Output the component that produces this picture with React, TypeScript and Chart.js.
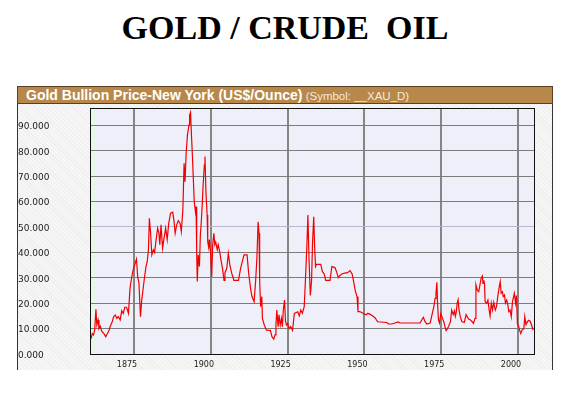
import { useEffect, useRef } from "react";
import { Chart, registerables } from "chart.js";

Chart.register(...registerables);

const titleText = "GOLD / CRUDE  OIL";
const headerMain = "Gold Bullion Price-New York (US$/Ounce)";
const headerSymbol = "(Symbol: __XAU_D)";

const xTicks = [1875, 1900, 1925, 1950, 1975, 2000];
const yTicks = [0, 10, 20, 30, 40, 50, 60, 70, 80, 90];

const years = [
  1861.0, 1861.4, 1861.8, 1862.2, 1862.6, 1862.9, 1863.3, 1863.6, 1864.0, 1864.5,
  1865.2, 1865.8, 1866.3, 1866.8, 1867.3, 1867.9, 1868.4, 1868.9, 1869.4, 1869.9,
  1870.5, 1871.0, 1871.5, 1872.0, 1872.6, 1873.2, 1873.7, 1874.2, 1874.7, 1875.2,
  1875.8, 1876.2, 1876.6, 1877.1, 1877.5, 1877.9, 1878.4, 1878.9, 1879.3, 1879.7,
  1880.0, 1880.4, 1880.8, 1881.3, 1881.7, 1882.2, 1882.7, 1883.1, 1883.4, 1883.8,
  1884.3, 1884.7, 1885.3, 1885.8, 1886.3, 1886.9, 1887.6, 1888.0, 1888.4, 1888.9,
  1889.4, 1890.0, 1890.4, 1890.9, 1891.3, 1891.6, 1892.0, 1892.4, 1892.9, 1893.1,
  1893.4, 1893.6, 1894.0, 1894.3, 1894.6, 1895.0, 1895.2, 1895.4, 1895.6, 1895.9,
  1896.3, 1896.6, 1896.9, 1897.2, 1897.5, 1897.9, 1898.1, 1898.4, 1898.8, 1899.0,
  1899.3, 1899.5, 1899.9, 1900.3, 1900.6, 1901.0, 1901.3, 1901.6, 1902.1, 1902.4,
  1902.9, 1903.3, 1903.8, 1904.3, 1904.6, 1905.2, 1905.7, 1906.2, 1906.8, 1907.5,
  1909.0, 1909.7, 1910.8, 1911.8, 1912.3, 1913.0, 1913.4, 1914.1, 1914.6, 1915.0,
  1915.4, 1915.7, 1915.9, 1916.2, 1916.6, 1916.8, 1917.4, 1918.1, 1919.4, 1919.9,
  1920.5, 1920.9, 1921.2, 1921.5, 1921.9, 1922.2, 1922.6, 1923.0, 1923.3, 1923.6,
  1924.0, 1924.3, 1924.6, 1925.0, 1925.5, 1926.0, 1926.6, 1927.2, 1928.3, 1928.8,
  1929.3, 1929.8, 1930.4, 1930.8, 1931.3, 1931.6, 1932.0, 1932.4, 1932.8, 1933.1,
  1933.5, 1933.8, 1934.1, 1934.4, 1935.8, 1936.3, 1936.9, 1937.4, 1938.8, 1939.4,
  1940.4, 1940.9, 1941.5, 1942.0, 1942.6, 1943.6, 1944.5, 1945.3, 1946.0, 1946.6,
  1947.1, 1947.6, 1947.9, 1948.5, 1949.5, 1950.6, 1951.1, 1952.2, 1953.5, 1954.3,
  1957.3, 1957.8, 1958.9, 1961.0, 1961.6, 1968.1, 1968.7, 1969.2, 1969.7, 1970.3,
  1971.4, 1972.1, 1972.6, 1973.0, 1973.3, 1973.6, 1973.8, 1974.1, 1974.4, 1974.9,
  1975.4, 1975.9, 1976.2, 1976.6, 1977.0, 1977.4, 1978.0, 1978.4, 1978.9, 1979.3,
  1979.6, 1979.9, 1980.2, 1980.5, 1980.8, 1981.2, 1981.7, 1982.5, 1983.1, 1983.9,
  1984.4, 1985.0, 1985.5, 1986.0, 1986.3, 1986.7, 1987.2, 1987.6, 1988.0, 1988.4,
  1988.6, 1988.9, 1989.1, 1989.3, 1989.8, 1990.2, 1990.6, 1990.9, 1991.3, 1991.7,
  1992.1, 1992.6, 1993.0, 1993.4, 1993.8, 1994.2, 1994.5, 1994.9, 1995.2, 1995.6,
  1995.9, 1996.3, 1996.6, 1997.0, 1997.4, 1997.8, 1998.2, 1998.8, 1999.2, 1999.5,
  1999.8, 2000.2, 2000.5, 2000.9, 2001.3, 2001.9, 2002.2, 2002.6, 2003.1, 2003.5,
  2004.0, 2004.5, 2004.9,
];

const ratios = [
  6.0, 8.0, 7.5, 9.5, 17.6, 11.5, 13.4, 10.0, 11.0, 9.0,
  8.0, 6.8, 8.0, 9.0, 11.0, 12.7, 14.7, 15.3, 14.0, 14.7,
  13.4, 17.0, 16.0, 18.4, 18.4, 16.0, 25.9, 29.8, 33.0, 35.0,
  37.3, 30.4, 28.0, 14.7, 21.0, 25.0, 30.0, 34.4, 36.3, 41.0,
  53.4, 47.6, 39.0, 41.0, 40.0, 45.0, 49.5, 47.6, 43.0, 50.8,
  41.6, 45.0, 49.5, 45.0, 51.4, 55.4, 55.8, 52.5, 47.5, 50.8,
  52.5, 51.4, 48.2, 56.7, 75.0, 67.8, 79.7, 86.2, 90.2, 94.0,
  95.1, 88.8, 78.3, 69.2, 60.0, 56.0, 58.0, 40.3, 28.5, 39.0,
  34.4, 47.0, 52.0, 58.7, 66.5, 74.4, 77.7, 64.0, 54.7, 44.2,
  42.0, 45.0, 40.3, 30.4, 42.9, 47.5, 43.0, 44.0, 41.0, 43.0,
  40.3, 37.0, 33.7, 29.0, 32.0, 33.7, 39.6, 35.0, 31.8, 29.0,
  29.0, 33.7, 39.0, 39.0, 32.0, 25.2, 22.6, 20.6, 29.0, 37.7,
  52.0, 47.5, 29.0, 18.6, 22.6, 14.0, 11.4, 9.4, 9.3, 6.8,
  5.8, 7.5, 11.4, 17.3, 10.7, 15.4, 11.4, 14.0, 10.7, 17.3,
  21.2, 13.0, 11.4, 12.0, 10.0, 10.8, 9.3, 16.0, 16.6, 15.0,
  17.3, 16.0, 18.6, 29.0, 43.6, 54.7, 36.0, 23.0, 29.0, 43.6,
  54.0, 42.0, 34.4, 35.3, 35.3, 32.5, 31.5, 29.0, 29.0, 34.4,
  34.0, 32.5, 30.0, 30.8, 31.5, 31.8, 32.0, 32.8, 31.5, 27.8,
  24.5, 22.6, 16.7, 16.7, 16.0, 15.4, 16.0, 15.4, 14.2, 12.7,
  12.4, 11.8, 11.8, 12.6, 12.2, 12.2, 13.5, 14.4, 12.8, 11.8,
  12.2, 16.0, 18.6, 21.9, 24.0, 28.2, 20.0, 13.5, 12.2, 16.0,
  14.0, 12.5, 10.8, 9.2, 10.0, 10.8, 12.7, 17.3, 15.5, 17.0,
  14.8, 16.5, 20.0, 21.3, 17.3, 14.7, 12.8, 12.4, 15.5, 13.8,
  13.5, 12.8, 12.0, 14.0, 27.2, 25.2, 24.5, 27.2, 29.8, 30.7,
  27.8, 29.0, 27.2, 20.6, 20.0, 21.2, 17.3, 15.0, 20.0, 17.3,
  20.3, 17.3, 18.6, 22.6, 25.8, 28.5, 24.0, 24.5, 22.6, 23.2,
  20.0, 21.2, 20.0, 16.7, 17.3, 14.7, 20.6, 23.9, 20.0, 23.0,
  12.0, 10.9, 9.4, 8.1, 9.4, 10.0, 14.7, 11.5, 12.8, 13.3,
  12.8, 11.0, 9.4,
];

const plotDecor = {
  id: "plotDecor",
  beforeDraw(chart: any) {
    const { ctx, chartArea: a } = chart;
    ctx.save();
    ctx.fillStyle = "#efeffa";
    ctx.fillRect(a.left, a.top, a.right - a.left, a.bottom - a.top);
    ctx.fillStyle = "#e7f7e7";
    ctx.fillRect(a.left, a.top, 5, a.bottom - a.top);
    ctx.restore();
  },
  afterDraw(chart: any) {
    const { ctx, chartArea: a } = chart;
    ctx.save();
    ctx.strokeStyle = "#111111";
    ctx.lineWidth = 1;
    ctx.strokeRect(
      Math.round(a.left) - 0.5,
      Math.round(a.top) - 0.5,
      Math.round(a.right - a.left) + 1,
      Math.round(a.bottom - a.top) + 1
    );
    ctx.restore();
  },
};

export default function App() {
  const ref = useRef<HTMLCanvasElement>(null);

  useEffect(() => {
    document.body.style.margin = "0";
    const canvas = ref.current;
    if (!canvas) return;
    const chart = new Chart(canvas, {
      type: "line",
      data: {
        datasets: [
          {
            data: years.map((x, i) => ({ x, y: ratios[i] })),
            borderColor: "#f00000",
            borderWidth: 1.2,
            pointRadius: 0,
            tension: 0,
            fill: false,
          },
        ],
      },
      options: {
        animation: false,
        responsive: false,
        maintainAspectRatio: false,
        layout: { padding: { top: 5, right: 18, left: 0, bottom: 0 } },
        plugins: {
          legend: { display: false },
          tooltip: { enabled: false },
        },
        scales: {
          x: {
            type: "linear",
            min: 1861,
            max: 2005.2,
            afterBuildTicks: (s: any) => {
              s.ticks = xTicks.map((v) => ({ value: v }));
            },
            afterFit: (s: any) => {
              s.height = 16;
              s.paddingLeft = 0;
              s.paddingRight = 0;
            },
            grid: { color: "#858585", lineWidth: 2, drawTicks: false },
            border: { display: false },
            ticks: {
              font: { family: "DejaVu Sans", size: 8 },
              color: "#222222",
              labelOffset: -7,
              padding: 6,
              maxRotation: 0,
              autoSkip: false,
              callback: (v: any) => String(v),
            },
          },
          y: {
            type: "linear",
            min: 0,
            max: 96.4,
            afterBuildTicks: (s: any) => {
              s.ticks = yTicks.map((v) => ({ value: v }));
            },
            afterFit: (s: any) => {
              s.width = 73;
              s.paddingTop = 0;
              s.paddingBottom = 0;
            },
            grid: {
              color: (c: any) =>
                c.tick && c.tick.value === 50 ? "#b6b6cc" : "#7c7c7c",
              lineWidth: 1,
              drawTicks: false,
            },
            border: { display: false },
            ticks: {
              crossAlign: "far",
              font: { family: "DejaVu Sans", size: 9 },
              color: "#222222",
              labelOffset: 1.5,
              padding: 0,
              autoSkip: false,
              callback: (v: any) => Number(v).toFixed(3),
            },
          },
        },
      },
      plugins: [plotDecor],
    });
    return () => chart.destroy();
  }, []);

  return (
    <div
      style={{
        position: "relative",
        width: 576,
        height: 393,
        overflow: "hidden",
        background: "#ffffff",
      }}
    >
      <div
        style={{
          position: "absolute",
          left: 0,
          top: 10.5,
          width: 570,
          textAlign: "center",
          fontFamily: "'Liberation Serif', 'Times New Roman', serif",
          fontWeight: "bold",
          fontSize: 34,
          lineHeight: "34px",
          whiteSpace: "pre",
          color: "#000",
        }}
      >
        {titleText}
      </div>
      <div
        style={{
          position: "absolute",
          left: 17,
          top: 104,
          width: 536,
          height: 266,
          boxSizing: "border-box",
          borderLeft: "1px solid #333",
          borderRight: "1px solid #333",
          background:
            "repeating-linear-gradient(45deg, #f6f6f6 0px, #f6f6f6 2px, #eeeeee 2px, #eeeeee 3px)",
        }}
      />
      <div
        style={{
          position: "absolute",
          left: 17,
          top: 86,
          width: 536,
          height: 18,
          boxSizing: "border-box",
          border: "1px solid #5a4020",
          background: "#b8874a",
          color: "#ffffff",
          fontFamily: "'Liberation Sans', Arial, sans-serif",
          whiteSpace: "nowrap",
          lineHeight: "16px",
          paddingLeft: 8,
          overflow: "hidden",
        }}
      >
        <span style={{ fontWeight: "bold", fontSize: 14 }}>{headerMain}</span>
        <span style={{ fontSize: 11.5, color: "#f3eadc" }}> {headerSymbol}</span>
      </div>
      <canvas
        ref={ref}
        width={534}
        height={266}
        style={{ position: "absolute", left: 18, top: 104, width: 534, height: 266 }}
      />
    </div>
  );
}
